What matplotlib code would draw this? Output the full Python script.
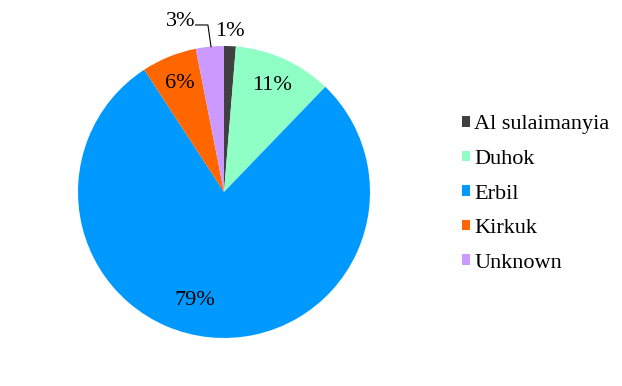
import matplotlib.pyplot as plt

regions = ["Al sulaimanyia", "Duhok", "Erbil", "Kirkuk", "Unknown"]
shares = [1.3, 10.9, 78.6, 6.1, 3.1]
colors = ["#404040", "#8FFFC6", "#0099FF", "#FF6600", "#CC99FF"]

plt.rcParams["font.family"] = ["Liberation Serif", "DejaVu Serif"]

fig = plt.figure(figsize=(6.22, 3.86), dpi=100)
# pie centre at (224, 192) px, radius 146 px
cx, cy, r = 224, 192, 146
W, H = 622, 386
ax = fig.add_axes([(cx - r) / W, (H - cy - r) / H, 2 * r / W, 2 * r / H])

wedges, texts, autotexts = ax.pie(
    shares,
    colors=colors,
    startangle=90,
    counterclock=False,
    autopct=lambda p: f"{p:.0f}%",
    pctdistance=0.8,
    textprops=dict(fontsize=16, color="black"),
    wedgeprops=dict(linewidth=0),
)
ax.set_xlim(-1, 1)
ax.set_ylim(-1, 1)

# move labels like the original (small slices outside)
autotexts[0].set_position((0.041, 1.096))
autotexts[2].set_position((-0.2, -0.74))
autotexts[4].set_position((-0.295, 1.17))
ax.plot([-0.195, -0.11, -0.089], [1.144, 1.144, 0.995], color="black", lw=0.8,
        clip_on=False)

ax.legend(
    wedges,
    regions,
    loc="center left",
    bbox_to_anchor=((462 - cx + r) / (2 * r), 0.5 - (194 - cy) / (2 * r)),
    frameon=False,
    fontsize=16,
    handlelength=0.36,
    handleheight=0.36,
    handletextpad=0.2,
    labelspacing=0.70,
    borderaxespad=0,
    borderpad=0,
)

fig.savefig("out.png", dpi=100)
